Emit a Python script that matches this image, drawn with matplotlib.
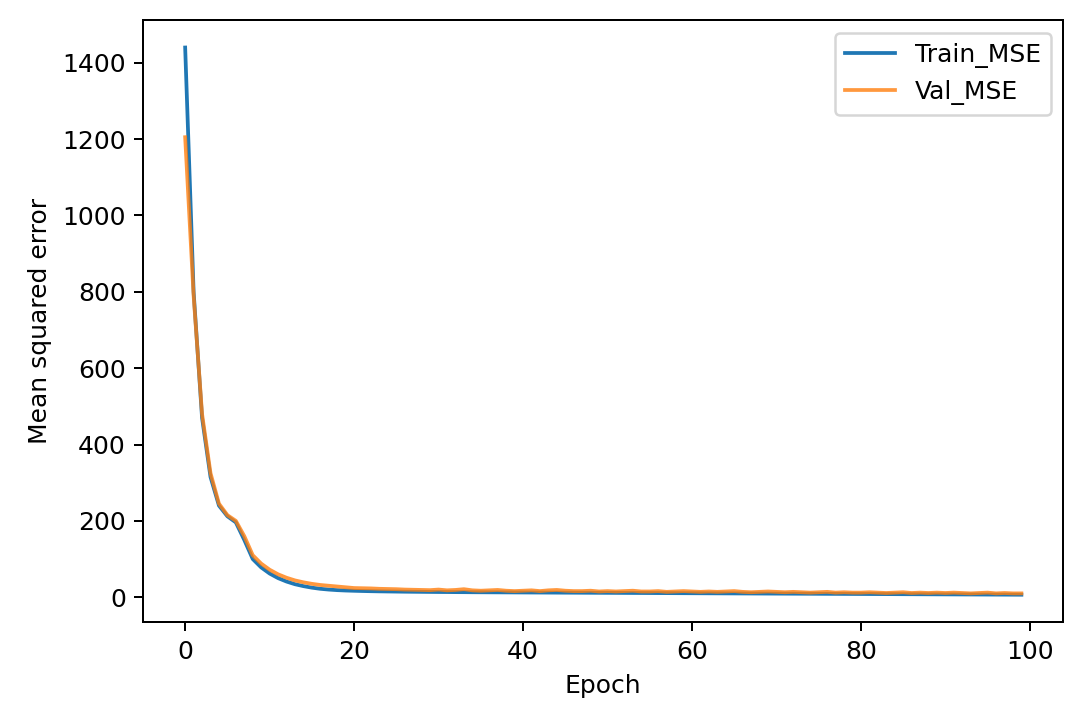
import matplotlib
matplotlib.use("Agg")
import matplotlib.pyplot as plt
import numpy as np

epochs = list(range(100))
train_head = [1440, 800, 470, 315, 240, 212, 196, 150, 100, 78, 62, 50, 41, 34, 29, 25, 22, 20, 18.5, 17.5,
              16.8, 16.2, 15.7, 15.3, 15.0, 14.7, 14.4, 14.2, 14.0, 13.8]
train_tail = [13.6, 13.5, 13.3, 13.2, 13.0, 12.9, 12.8, 12.7, 12.6, 12.5,
              12.4, 12.3, 12.2, 12.1, 12.0, 11.9, 11.8, 11.7, 11.6, 11.5,
              11.4, 11.3, 11.2, 11.1, 11.0, 10.9, 10.8, 10.7, 10.6, 10.5,
              10.4, 10.3, 10.2, 10.1, 10.0, 9.9, 9.8, 9.7, 9.6, 9.5,
              9.4, 9.3, 9.2, 9.1, 9.0, 8.9, 8.8, 8.7, 8.6, 8.5,
              8.4, 8.3, 8.2, 8.1, 8.0, 7.9, 7.8, 7.7, 7.6, 7.5,
              7.4, 7.3, 7.2, 7.1, 7.0, 6.9, 6.8, 6.7, 6.6, 6.5]
train_mse = train_head + train_tail
val_head = [1205, 790, 480, 325, 245, 215, 200, 160, 110, 88, 72, 60, 51, 44, 39, 35, 32, 30, 28, 26,
            24, 23.5, 23, 22, 21.5, 21, 20, 19.5, 19, 18.5]
val_tail = [20, 18, 19, 21, 18, 17, 18, 19, 17, 16,
            17, 18, 16, 18, 19, 17, 16, 16, 17, 15,
            16, 15, 16, 17, 15, 15, 16, 14, 15, 16,
            15, 14, 15, 14, 15, 16, 14, 13, 14, 15,
            14, 13, 14, 13, 12, 13, 14, 12, 13, 12,
            12, 13, 12, 11, 12, 13, 11, 12, 11, 12,
            11, 12, 11, 10, 11, 12, 10, 11, 10, 10]
val_mse = val_head + val_tail

fig = plt.figure(figsize=(1086/180, 720/180), dpi=180)
ax = fig.add_axes([0.132, 0.136, 0.847, 0.836])
ax.plot(epochs, train_mse, label="Train_MSE", color="#1f77b4")
ax.plot(epochs, val_mse, label="Val_MSE", color="#ff7f0e", alpha=0.8)
ax.set_xlabel("Epoch")
ax.set_ylabel("Mean squared error")
ax.set_yticks([0, 200, 400, 600, 800, 1000, 1200, 1400])
ax.legend(loc="upper right")
fig.savefig("out.png", dpi=180)
